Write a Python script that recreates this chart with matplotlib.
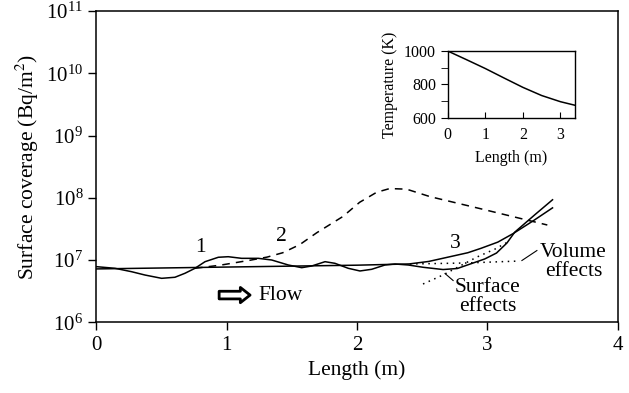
import numpy as np
import matplotlib
matplotlib.use('Agg')
import matplotlib.pyplot as plt
from matplotlib.ticker import LogLocator, NullLocator, FixedLocator

plt.rcParams['font.family'] = ['Liberation Serif', 'DejaVu Serif']
plt.rcParams['mathtext.fontset'] = 'stix'

# curve 1: wavy solid line (log10 of coverage)
x1 = [0.0, 0.142, 0.270, 0.372, 0.500, 0.602, 0.679, 0.756, 0.833, 0.935,
      1.011, 1.114, 1.242, 1.345, 1.472, 1.575, 1.652, 1.754, 1.830, 1.932,
      2.022, 2.112, 2.214, 2.291, 2.393, 2.508, 2.66, 2.77, 2.87, 2.98,
      3.07, 3.15, 3.21, 3.37, 3.50]
log1 = [6.896, 6.870, 6.815, 6.762, 6.709, 6.726, 6.790, 6.870, 6.976, 7.047,
        7.056, 7.030, 7.030, 7.003, 6.923, 6.880, 6.907, 6.976, 6.950, 6.870,
        6.827, 6.854, 6.923, 6.939, 6.923, 6.886, 6.85, 6.867, 6.94, 7.02,
        7.115, 7.276, 7.45, 7.74, 7.97]

# curve 2: dashed
x2 = [0.756, 0.95, 1.18, 1.31, 1.43, 1.56, 1.69, 1.89, 2.02, 2.15, 2.25, 2.38,
      2.56, 2.94, 3.46]
log2 = [6.87, 6.92, 7.00, 7.05, 7.12, 7.25, 7.44, 7.70, 7.93, 8.09, 8.15, 8.14,
        8.02, 7.83, 7.565]

# curve 3: smooth solid line
x3 = [0.0, 1.0, 2.0, 2.4, 2.55, 2.7, 2.85, 2.95, 3.08, 3.2, 3.35, 3.5]
log3 = [6.86, 6.89, 6.92, 6.94, 6.98, 7.05, 7.12, 7.19, 7.29, 7.43, 7.63, 7.84]

# dotted guides
xs_surf = [2.506, 2.659, 2.79, 2.92, 3.06, 3.17]
logs_surf = [6.618, 6.762, 6.907, 7.051, 7.18, 7.308]
xs_vol = [2.406, 2.83, 3.25]
logs_vol = [6.939, 6.955, 6.987]

# inset: temperature profile
xt = [0, 0.5, 1.0, 1.5, 2.0, 2.5, 3.0, 3.38]
temp = [1000, 948, 895, 838, 782, 733, 696, 675]

fig = plt.figure(figsize=(6.29, 3.93), dpi=100)
ax = fig.add_axes([0.1534, 0.1794, 0.8286, 0.7926])

kw = dict(color='black', lw=1.1, solid_joinstyle='round')
ax.plot(x1, 10 ** np.array(log1), **kw)
ax.plot(x2, 10 ** np.array(log2), color='black', lw=1.1, ls=(0, (5, 4)))
ax.plot(x3, 10 ** np.array(log3), **kw)
ax.plot(xs_surf, 10 ** np.array(logs_surf), color='black', lw=1.1, ls=(0, (1, 3)))
ax.plot(xs_vol, 10 ** np.array(logs_vol), color='black', lw=1.1, ls=(0, (1, 3)))

# leader lines
ax.plot([3.265, 3.38], [10 ** 6.995, 10 ** 7.155], color='black', lw=0.8)
ax.plot([2.675, 2.737], [10 ** 6.786, 10 ** 6.674], color='black', lw=0.8)

ax.set_yscale('log')
ax.set_xlim(0, 4)
ax.set_ylim(1e6, 1e11)
ax.yaxis.set_major_locator(LogLocator(base=10, numticks=10))
ax.yaxis.set_minor_locator(NullLocator())
ax.set_xticks([0, 1, 2, 3, 4])
ax.tick_params(direction='out', length=6, width=1.0, labelsize=15)
for s in ax.spines.values():
    s.set_linewidth(1.1)

ax.set_xlabel('Length (m)', fontsize=15.5)
ax.set_ylabel('Surface coverage (Bq/m$^2$)', fontsize=15.5)

fs = 15.5
ax.text(0.795, 10 ** 7.21, '1', fontsize=fs, ha='center', va='center')
ax.text(1.42, 10 ** 7.377, '2', fontsize=fs, ha='center', va='center')
ax.text(2.75, 10 ** 7.27, '3', fontsize=fs, ha='center', va='center')
ax.text(3.66, 10 ** 6.97, 'Volume\neffects', fontsize=fs, ha='center', va='center',
        linespacing=1.0)
ax.text(3.0, 10 ** 6.41, 'Surface\neffects', fontsize=fs, ha='center', va='center',
        linespacing=1.0)
ax.text(1.41, 10 ** 6.44, 'Flow', fontsize=fs, ha='center', va='center')
ax.annotate('', xy=(1.2, 10 ** 6.44), xytext=(0.92, 10 ** 6.44),
            arrowprops=dict(arrowstyle='simple,head_length=0.7,head_width=1.1,tail_width=0.55',
                            fc='white', ec='black', lw=2.0))

# inset
axi = fig.add_axes([0.7118, 0.7005, 0.2019, 0.1697])
axi.plot(xt, temp, color='black', lw=1.1)
axi.set_xlim(0, 3.38)
axi.set_ylim(600, 1000)
axi.set_xticks([0, 1, 2, 3])
axi.set_yticks([600, 800, 1000])
axi.yaxis.set_minor_locator(FixedLocator([700, 900]))
axi.tick_params(axis='x', direction='in', length=4, pad=7, labelsize=11.5)
axi.tick_params(axis='y', which='both', direction='out', length=5, labelsize=11.5)
axi.set_xlabel('Length (m)', fontsize=11.5, labelpad=5)
axi.set_ylabel('Temperature (K)', fontsize=11.5)
for s in axi.spines.values():
    s.set_linewidth(1.0)

fig.savefig('out.png', dpi=100)
